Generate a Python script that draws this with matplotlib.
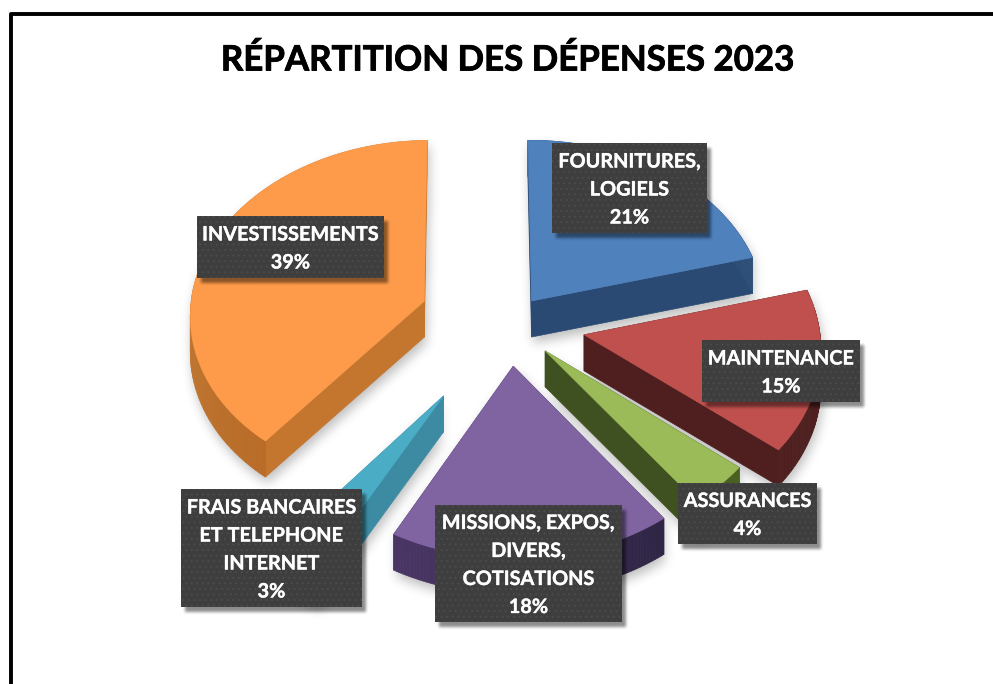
import numpy as np
import matplotlib
matplotlib.use("Agg")
import matplotlib.pyplot as plt
from matplotlib.patches import Polygon, Rectangle
from matplotlib.path import Path
from matplotlib.colors import to_rgb
import matplotlib.patheffects as pe

plt.rcParams['font.family'] = ['Lato', 'DejaVu Sans']
plt.rcParams['hatch.linewidth'] = 0.8

title = "RÉPARTITION DES DÉPENSES 2023"
labels = ["FOURNITURES,\nLOGIELS", "MAINTENANCE", "ASSURANCES",
          "MISSIONS, EXPOS,\nDIVERS,\nCOTISATIONS",
          "FRAIS BANCAIRES\nET TELEPHONE\nINTERNET", "INVESTISSEMENTS"]
values = [21, 15, 4, 18, 3, 39]

# styles
explode = [0.16, 0.325, 0.22, 0.245, 0.49, 0.385]
top_cols = ['#4f81bd', '#c0504d', '#9bbb59', '#8064a2', '#4bacc6', '#fd9b4a']
cut_cols = ['#2a4a73', '#4f1f1f', '#3f5121', '#4a3665', '#3d8ba3', '#c4762f']
arc_from = ['#2a4a73', '#4f1f1f', '#4a6020', '#2f2545', '#3d8ba3', '#b86c28']
arc_to = ['#2f5078', '#4f1f1f', '#4a6020', '#4a3665', '#3d8ba3', '#d08a45']
boxes = [(552, 143, 707, 233), (702, 340, 860, 402), (678, 483, 817, 544),
         (435, 505, 622, 622), (181, 489, 362, 607), (197, 216, 384, 278)]

W, H = 993, 684
CX, CY, R, S, K, DEPTH = 509, 323, 235, 0.74, 0.065, 36
START_DEG = -0.6

fig = plt.figure(figsize=(W / 100, H / 100), dpi=100, facecolor='white')
ax = fig.add_axes([0, 0, 1, 1])
ax.set_xlim(0, W)
ax.set_ylim(H, 0)
ax.axis('off')

gx, gy = np.meshgrid(np.arange(W) + 0.5, np.arange(H) + 0.5)
grid = np.column_stack([gx.ravel(), gy.ravel()])


def project(u, v):
    w = 1 + K * v
    return np.column_stack([CX + R * u / w, CY - R * S * v / w])


def box_blur(a, r):
    for axis in (0, 1):
        c = np.cumsum(np.insert(a, 0, 0, axis=axis), axis=axis)
        idx_hi = np.clip(np.arange(a.shape[axis]) + r + 1, 0, a.shape[axis])
        idx_lo = np.clip(np.arange(a.shape[axis]) - r, 0, a.shape[axis])
        a = (np.take(c, idx_hi, axis=axis) - np.take(c, idx_lo, axis=axis)) / (2 * r + 1)
    return a


def shadow_image(mask, radius, alpha, z):
    a = mask.astype(float)
    for _ in range(3):
        a = box_blur(a, radius)
    rgba = np.zeros((H, W, 4))
    rgba[..., 3] = a * alpha
    ax.imshow(rgba, extent=(0, W, H, 0), interpolation='bilinear', zorder=z, aspect='auto')


def side(a, b, color, z):
    off = np.array([0, DEPTH])
    quad = np.vstack([a, b, b + off, a + off])
    ax.add_patch(Polygon(quad, closed=True, facecolor=color, edgecolor=color, lw=0.5, zorder=z))


fracs = np.array(values) / sum(values) * 2 * np.pi
ends = np.cumsum(fracs) + np.deg2rad(START_DEG)
starts = ends - fracs

pie_mask = np.zeros(W * H, bool)
for i, (t0, t1) in enumerate(zip(starts, ends)):
    mid = (t0 + t1) / 2
    u0, v0 = explode[i] * np.sin(mid), explode[i] * np.cos(mid)
    th = np.linspace(t0, t1, 80)
    arc = project(u0 + np.sin(th), v0 + np.cos(th))
    apex = project(np.array([u0]), np.array([v0]))
    top = np.vstack([apex, arc])
    for d in np.linspace(0, DEPTH, 7):
        pie_mask |= Path(top + np.array([2, 6 + d])).contains_points(grid)
    side(apex, arc[:1], cut_cols[i], 3)
    side(apex, arc[-1:], cut_cols[i], 3)
    c0, c1 = np.array(to_rgb(arc_from[i])), np.array(to_rgb(arc_to[i]))
    for j in range(len(arc) - 1):
        col = c0 + (c1 - c0) * j / (len(arc) - 2)
        side(arc[j:j + 1], arc[j + 1:j + 2], tuple(col), 3)
    ax.add_patch(Polygon(top, closed=True, facecolor=top_cols[i], edgecolor=top_cols[i],
                         lw=0.4, zorder=4))
shadow_image(pie_mask.reshape(H, W), 5, 0.26, 1)

# label boxes
box_mask = np.zeros((H, W), bool)
for x0, y0, x1, y1 in boxes:
    box_mask[y0 + 5:y1 + 5, x0 + 4:x1 + 4] = True
shadow_image(box_mask, 1, 0.45, 5)

for lab, val, (x0, y0, x1, y1) in zip(labels, values, boxes):
    ax.add_patch(Rectangle((x0, y0), x1 - x0, y1 - y0, facecolor='#3e3e3e',
                           edgecolor='#4a4a4a', hatch='...', lw=0, zorder=6))
    ax.text((x0 + x1) / 2, (y0 + y1) / 2 + 1.5, f"{lab}\n{val}%", color='white', fontsize=14.3,
            fontweight='bold', ha='center', va='center', linespacing=1.5, zorder=7,
            path_effects=[pe.withStroke(linewidth=0.3, foreground='#e8e8e8')])

# title
ax.text(507.5, 60.5, title, color='black', fontsize=25.1, fontweight='bold',
        ha='center', va='center', zorder=8,
        path_effects=[pe.withStroke(linewidth=0.6, foreground='black')])

# frame
ax.plot([10.5, 10.5, W], [H, 14.4, 14.4], color='black', lw=2.8, solid_joinstyle='round', zorder=9)

ax.set_xlim(0, W)
ax.set_ylim(H, 0)
fig.savefig("out.png", dpi=100, facecolor='white')
